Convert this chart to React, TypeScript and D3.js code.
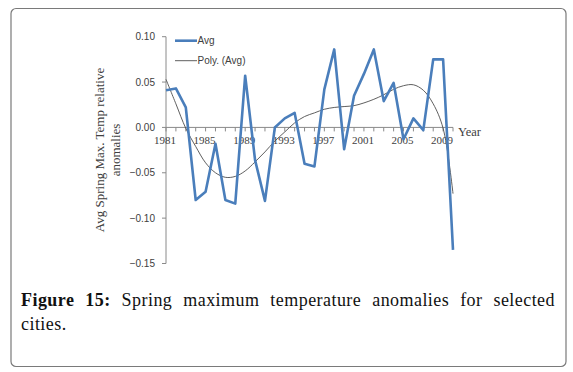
import { useRef, useEffect } from 'react';
import * as d3 from 'd3';

// yearly average anomalies
const years = d3.range(1981, 2011);
const avgValues = [
  0.041, 0.043, 0.022, -0.080, -0.071, -0.018, -0.080, -0.084, 0.057, -0.036,
  -0.081, 0.000, 0.010, 0.016, -0.040, -0.043, 0.042, 0.086, -0.024, 0.035,
  0.059, 0.086, 0.029, 0.049, -0.013, 0.010, -0.003, 0.075, 0.075, -0.135,
];
// Excel polynomial trendline, sampled at each year
const polyValues = [
  0.053, 0.026, -0.001, -0.021, -0.039, -0.050, -0.055, -0.054, -0.048, -0.038,
  -0.027, -0.015, -0.005, 0.005, 0.012, 0.016, 0.020, 0.022, 0.023, 0.024,
  0.027, 0.031, 0.036, 0.042, 0.046, 0.047, 0.041, 0.026, -0.001, -0.073,
];
const yTicks = [0.10, 0.05, 0.0, -0.05, -0.10, -0.15];
const xLabelYears = [1981, 1985, 1989, 1993, 1997, 2001, 2005, 2009];
const legendItems = ['Avg', 'Poly. (Avg)'];
const captionBold = 'Figure 15:';
const captionLine1 = 'Spring maximum temperature anomalies for selected';
const captionLine2 = 'cities.';

const W = 573;
const H = 372;
const BLUE = '#4a7ebb';
const SERIF = 'Liberation Serif, Times New Roman, serif';
const SANS = 'Liberation Sans, Arial, sans-serif';

const App = () => {
  const capRef = useRef<SVGTextElement>(null);

  useEffect(() => {
    // justify the first caption line between the margins
    const el = capRef.current;
    if (!el) return;
    el.setAttribute('word-spacing', '0');
    const len = el.getComputedTextLength();
    const gaps = (captionBold + ' ' + captionLine1).split(' ').length - 1;
    const extra = (555 - 21 - len) / gaps;
    el.setAttribute('word-spacing', String(Math.max(0, extra)));
  }, []);

  const x = d3.scalePoint<number>().domain(years).range([166, 453]);
  const y = d3.scaleLinear().domain([-0.15, 0.10]).range([263.5, 36.7]);

  const avgLine = d3.line<number>()
    .x((d, i) => x(years[i])!)
    .y(d => y(d));
  const polyLine = d3.line<number>()
    .x((d, i) => x(years[i])!)
    .y(d => y(d))
    .curve(d3.curveCatmullRom.alpha(0.5));

  const x0 = x(years[0])!;
  const x1 = x(years[years.length - 1])!;
  const yZero = y(0);

  return (
    <svg width={W} height={H} style={{ position: 'absolute', left: 0, top: 0, background: '#fff' }}>
      <rect x={11} y={8.5} width={555} height={358} rx={5} ry={5}
        fill="#fff" stroke="#7a7a7a" strokeWidth={1.2} />

      {/* y axis */}
      <line x1={x0} x2={x0} y1={y(0.10)} y2={y(-0.15)} stroke="#8a8a8a" strokeWidth={1} />
      {yTicks.map(t => (
        <g key={t}>
          <line x1={x0 - 4} x2={x0} y1={y(t)} y2={y(t)} stroke="#8a8a8a" />
          <text x={155} y={y(t)} dy="0.35em" textAnchor="end"
            fontFamily={SANS} fontSize={10} fill="#404040">
            {d3.format('.2f')(t)}
          </text>
        </g>
      ))}

      {/* x axis through zero */}
      <line x1={x0} x2={x1} y1={yZero} y2={yZero} stroke="#8a8a8a" strokeWidth={1} />
      {years.map(yr => (
        <line key={yr} x1={x(yr)} x2={x(yr)} y1={yZero} y2={yZero + 4} stroke="#8a8a8a" />
      ))}
      {xLabelYears.map(yr => (
        <text key={yr} x={x(yr)! - 1} y={yZero + 17} textAnchor="middle"
          fontFamily={SERIF} fontSize={11} fill="#404040">
          {yr}
        </text>
      ))}
      <text x={458} y={yZero + 9} fontFamily={SERIF} fontSize={12.5} fill="#404040">Year</text>

      {/* y axis title */}
      <text transform="translate(104,150) rotate(-90)" textAnchor="middle"
        fontFamily={SERIF} fontSize={13} fill="#404040">
        <tspan x={0} y={0}>Avg Spring Max. Temp relative</tspan>
        <tspan x={0} y={15.5}>anomalies</tspan>
      </text>

      {/* series */}
      <path d={polyLine(polyValues) ?? ''} fill="none" stroke="#4d4d4d" strokeWidth={0.9} />
      <path d={avgLine(avgValues) ?? ''} fill="none" stroke={BLUE} strokeWidth={2.6}
        strokeLinejoin="round" />

      {/* legend */}
      {legendItems.map((name, i) => (
        <g key={name} transform={`translate(175,${40.7 + i * 20})`}>
          <line x1={0} x2={22} y1={0} y2={0}
            stroke={i === 0 ? BLUE : '#4d4d4d'} strokeWidth={i === 0 ? 2.6 : 0.9} />
          <text x={22.5} y={0} dy="0.35em" fontFamily={SANS}
            fontSize={10} fill="#404040">{name}</text>
        </g>
      ))}

      {/* caption */}
      <text ref={capRef} x={21} y={305.7} fontFamily={SERIF}
        fontSize={18} letterSpacing={0.45} fill="#111">
        <tspan fontWeight="bold">{captionBold}</tspan> {captionLine1}
      </text>
      <text x={21} y={330} fontFamily={SERIF}
        fontSize={18} letterSpacing={0.45} fill="#111">{captionLine2}</text>
    </svg>
  );
};

export default App;
